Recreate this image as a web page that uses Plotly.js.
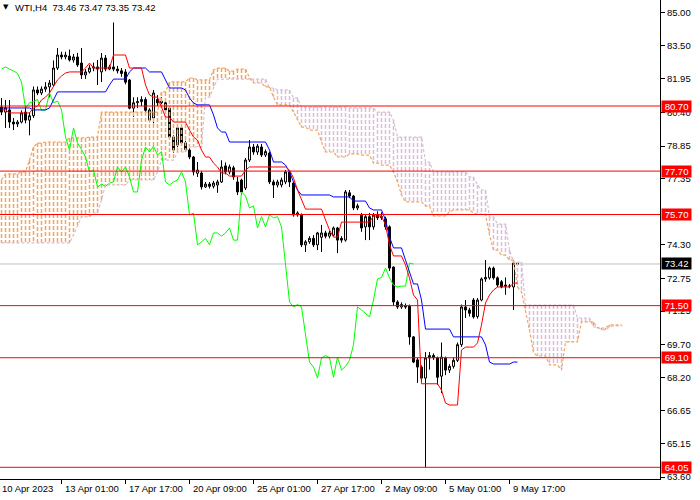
<!DOCTYPE html>
<html><head><meta charset="utf-8">
<script src="https://cdn.plot.ly/plotly-3.0.1.min.js"></script>
<style>html,body{margin:0;padding:0;background:#fff}#chart{width:700px;height:500px}</style>
</head><body><div id="chart"></div>
<script>
// ---- data ----
const openP = [80.65,80.42,80.52,79.96,79.87,79.96,80.42,80.05,80.25,81.44,81.30,81.48,81.58,81.67,82.45,83.05,82.96,83.00,82.82,82.96,
82.68,82.13,82.27,82.45,82.50,82.27,82.91,82.40,82.50,82.40,82.32,82.27,81.90,80.60,80.85,80.90,81.00,80.05,80.15,81.00,
80.85,80.85,80.60,79.27,78.90,79.69,79.00,78.67,78.35,77.60,77.61,76.97,77.10,77.00,77.06,77.20,77.94,77.66,77.85,77.20,
77.29,76.92,78.21,78.81,78.58,78.81,78.44,78.53,77.20,77.06,77.06,77.20,77.66,77.15,75.68,75.68,74.30,74.44,74.60,74.30,
74.65,74.85,74.70,74.75,75.08,74.60,74.52,76.70,76.55,76.00,75.70,75.13,75.60,75.13,75.68,75.55,75.50,75.13,73.28,71.67,
71.44,71.50,71.48,70.06,69.00,68.67,68.16,69.09,69.20,69.10,68.25,69.09,68.53,68.70,68.98,69.70,71.44,71.30,71.76,71.00,
71.76,72.73,72.78,73.23,72.78,72.60,72.45,72.40,72.36,73.46];
const highP = [81.07,80.98,80.98,80.15,80.05,80.50,80.70,80.40,81.60,81.60,81.60,81.80,81.90,82.80,83.37,83.20,83.20,83.30,83.10,83.15,
83.37,82.40,82.60,82.70,82.82,83.14,83.05,82.60,84.55,82.55,82.45,82.40,81.95,81.10,81.10,81.15,81.10,80.60,81.44,81.20,
81.10,81.00,80.65,79.35,79.80,79.85,79.10,78.75,78.40,78.12,77.70,77.20,77.20,77.25,77.30,78.20,78.10,78.00,77.95,77.43,
77.35,78.30,79.13,78.95,78.95,78.95,78.70,78.60,77.30,77.30,77.40,77.75,77.75,77.20,75.85,75.75,74.52,74.70,74.75,74.90,
75.22,74.95,74.95,75.15,75.13,74.70,76.83,76.83,76.60,76.20,75.77,75.68,75.77,75.77,75.85,75.80,75.60,75.20,73.30,71.75,
71.65,71.60,71.55,70.10,69.10,68.75,69.36,69.36,69.30,69.15,69.80,69.15,68.80,69.10,69.80,71.55,71.76,71.40,71.85,71.85,
72.80,73.60,73.30,73.30,72.85,72.68,72.80,72.50,73.50,73.47];
const lowP = [80.28,79.69,79.69,79.59,79.73,79.90,79.90,79.35,80.15,81.20,81.20,81.35,81.10,81.60,82.36,82.85,82.85,82.75,82.70,82.50,
81.95,81.95,82.20,82.30,81.67,81.80,82.30,82.35,82.30,82.20,82.05,81.70,80.55,80.20,80.60,80.70,80.35,79.95,79.90,80.70,
80.70,80.40,79.20,78.55,78.80,78.90,78.60,78.25,77.50,77.43,76.85,76.92,76.90,76.90,76.70,77.15,77.55,77.55,77.30,76.60,
76.60,76.83,78.12,78.45,78.45,78.35,78.35,77.10,76.46,76.95,76.95,77.10,76.97,75.60,75.60,74.20,73.97,74.35,74.20,74.06,
73.97,74.60,74.60,74.70,73.92,74.40,74.45,76.45,75.90,75.90,74.90,74.52,74.52,75.00,75.45,75.45,75.00,73.10,71.50,71.35,
71.35,71.35,69.70,68.85,67.94,68.00,64.05,68.55,69.00,67.85,67.47,68.30,68.40,68.60,68.90,69.60,70.93,71.00,70.90,70.90,
71.70,72.60,72.70,72.70,72.35,72.30,72.00,72.30,71.30,73.35];
const closeP = [80.42,80.62,79.96,79.87,79.96,80.38,80.05,80.25,81.44,81.30,81.48,81.58,81.76,82.45,83.05,82.96,83.05,82.82,82.96,82.59,
82.13,82.27,82.45,82.50,82.40,82.91,82.40,82.50,82.40,82.32,82.20,81.80,80.60,80.85,80.90,81.00,80.50,80.52,81.30,80.85,
80.93,80.52,79.27,78.67,79.69,79.00,78.70,78.35,77.66,77.75,76.97,77.10,77.00,77.15,77.20,77.89,77.66,77.89,77.43,76.74,
76.74,78.21,78.81,78.58,78.85,78.44,78.60,77.20,77.06,77.20,77.29,77.66,77.20,75.68,75.77,74.30,74.44,74.60,74.30,74.85,
74.85,74.70,74.85,75.08,74.52,74.52,76.74,76.55,76.00,76.10,75.08,75.60,75.13,75.68,75.55,75.60,75.13,73.23,71.67,71.44,
71.55,71.44,70.06,68.90,68.67,68.16,69.09,69.20,69.10,68.20,69.13,68.53,68.70,68.98,69.70,71.44,71.30,71.15,70.98,71.76,
72.73,72.80,73.23,72.78,72.45,72.36,72.40,72.40,73.46,73.42];
const tenkan = [80.52,80.52,80.38,80.38,80.38,80.38,80.38,80.38,80.61,80.70,80.98,81.11,81.30,81.62,81.90,82.08,82.22,82.27,82.27,82.27,
82.27,82.45,82.68,82.45,82.45,82.45,82.45,82.45,83.05,83.05,83.05,83.05,82.45,82.45,82.45,82.45,81.67,81.21,81.11,81.11,
80.65,80.19,80.19,79.96,79.96,79.96,79.96,79.59,79.27,79.13,78.67,78.35,78.35,78.07,77.89,77.61,77.61,77.47,77.47,77.47,
77.47,77.75,77.89,77.89,77.89,77.89,77.89,77.89,77.89,77.89,77.89,77.89,77.75,77.38,76.83,76.37,75.95,75.95,75.95,75.95,
75.95,75.45,74.99,74.66,74.66,75.35,75.35,75.35,75.35,75.35,75.35,75.35,75.35,75.63,75.63,75.63,75.22,74.30,73.79,73.79,
73.79,73.37,72.77,71.99,71.76,67.90,67.90,67.90,67.90,67.90,67.61,67.01,66.92,66.92,66.92,69.46,69.59,69.59,69.59,69.78,
70.61,71.62,71.99,72.22,72.36,72.36,72.36,72.36,72.54,72.54];
const kijun = [80.61,80.61,80.61,80.61,80.61,80.61,80.61,80.61,80.52,80.52,80.52,80.52,80.61,80.98,81.35,81.35,81.35,81.35,81.35,81.35,
81.35,81.35,81.35,81.35,81.35,81.35,81.35,81.67,81.94,81.94,81.94,81.94,82.27,82.45,82.45,82.45,82.45,82.27,82.27,82.27,
82.27,81.90,81.53,81.53,81.53,81.53,81.44,81.07,80.84,80.75,80.75,80.75,80.75,80.29,79.69,79.50,79.50,79.04,79.04,79.04,
79.04,79.04,79.04,79.04,79.04,79.04,79.04,78.67,78.12,78.12,78.12,77.98,77.66,77.20,76.83,76.60,76.60,76.60,76.60,76.60,
76.60,76.60,76.60,76.51,76.51,76.51,76.51,76.51,76.32,76.32,76.32,76.32,76.00,75.91,75.91,75.91,75.45,74.66,74.16,74.16,
74.16,73.60,73.05,72.50,72.50,71.76,70.42,70.42,70.42,70.42,70.42,70.42,70.42,70.06,70.06,70.06,70.06,70.06,70.06,70.06,
70.06,69.69,68.90,68.81,68.81,68.81,68.81,68.81,68.90,68.90];
const spanA = [77.29,77.57,77.57,77.57,77.57,77.66,77.66,78.21,78.81,78.99,78.99,79.04,79.04,79.04,79.04,79.04,79.04,79.23,79.23,79.23,
79.23,79.23,79.27,79.27,79.27,80.42,80.42,80.42,80.42,80.42,80.42,80.42,80.42,80.42,80.42,80.42,80.42,80.42,80.42,80.42,
81.35,81.35,81.81,81.81,81.81,81.81,81.81,81.99,81.99,81.90,81.90,81.90,81.90,82.36,82.45,82.45,82.45,82.31,82.31,82.40,
82.40,82.40,81.99,81.76,81.76,81.76,81.58,81.58,81.11,80.75,80.75,80.75,80.75,80.42,80.05,79.73,79.73,79.59,79.59,79.59,
79.04,78.58,78.58,78.58,78.35,78.35,78.35,78.49,78.49,78.49,78.44,78.44,78.44,78.07,78.07,77.98,77.98,77.98,77.66,77.20,
76.60,76.28,76.28,76.28,76.28,76.28,76.09,76.09,75.63,75.63,75.63,75.63,75.82,75.91,75.91,75.91,75.91,75.91,75.77,75.72,
75.72,75.72,74.76,74.06,74.06,73.83,73.83,73.60,73.60,72.36,72.13,71.30,70.38,69.32,69.18,69.18,69.18,68.77,68.77,68.77,
68.53,69.83,69.83,69.83,69.83,70.75,70.75,70.75,70.75,70.47,70.47,70.47,70.61,70.61,70.61,70.61];
const spanB = [74.39,74.39,74.39,74.39,74.39,74.39,74.39,74.39,74.39,74.39,74.39,74.39,74.39,74.39,74.39,74.39,74.39,74.39,74.76,75.22,
75.59,75.59,75.59,75.77,75.77,76.37,77.06,77.06,77.06,77.06,77.06,77.06,77.29,77.29,77.29,77.29,77.29,77.29,77.29,77.66,
78.21,78.21,78.21,78.21,78.58,78.58,78.58,78.81,78.81,78.81,78.81,81.11,81.11,81.53,81.94,81.94,81.94,81.94,81.94,81.94,
81.94,81.94,81.94,81.94,81.94,81.94,81.94,81.53,81.53,81.44,81.44,81.44,81.44,81.07,81.07,80.65,80.65,80.65,80.65,80.65,
80.65,80.65,80.65,80.65,80.65,80.65,80.65,80.61,80.61,80.61,80.61,80.61,80.61,80.61,80.42,80.42,80.42,80.42,80.05,79.27,
79.27,79.27,79.27,79.27,79.27,79.27,78.12,78.12,77.66,77.66,77.66,77.66,77.66,77.66,77.66,77.66,77.66,77.43,77.43,77.06,
76.83,76.83,75.59,75.59,75.26,75.26,75.26,74.06,73.51,73.51,73.51,71.53,71.53,71.53,71.53,71.53,71.53,71.53,71.53,71.53,
71.53,71.53,71.53,71.53,70.93,70.93,70.93,70.93,70.52,70.52,70.38,70.38,70.52,70.57,70.57,70.57];
const chikouShift = 26;
const levels = [80.70, 77.70, 75.70, 71.50, 69.10, 64.05];
const bidPrice = 73.42;
const yTicks = [85.00, 83.50, 81.95, 80.40, 78.85, 77.35, 74.30, 72.75, 71.25, 69.70, 68.20, 66.65, 65.15, 63.60];
const timeTickIdx = [-1, 15, 31, 47, 63, 79, 95, 111, 127];
const timeTickText = ['10 Apr 2023', '13 Apr 01:00', '17 Apr 17:00', '20 Apr 09:00', '25 Apr 01:00', '27 Apr 17:00', '2 May 09:00', '5 May 01:00', '9 May 17:00'];
const titleText = 'WTI,H4  73.46 73.47 73.35 73.42';

// ---- build traces ----
const FONT = 'Liberation Sans, Arial, sans-serif';
const XMIN = -0.375, XMAX = 164.625;
const idx = closeP.map((_, i) => i);
const cloudIdx = spanA.map((_, i) => i);

const orangeX = [], orangeY = [], thistleX = [], thistleY = [];
spanA.forEach((a, i) => {
  const b = spanB[i];
  const hi = Math.max(a, b), lo = Math.min(a, b);
  if (a >= b) { orangeX.push(i, i, null); orangeY.push(hi, lo, null); }
  else { thistleX.push(i, i, null); thistleY.push(hi, lo, null); }
});

const chX = [], chY = [];
for (let i = chikouShift; i < closeP.length; i++) { chX.push(i - chikouShift); chY.push(closeP[i]); }

const traces = [
  {type:'candlestick', x: idx, open: openP, high: highP, low: lowP, close: closeP,
   increasing:{line:{color:'#000000', width:1}, fillcolor:'#ffffff'},
   decreasing:{line:{color:'#000000', width:1}, fillcolor:'#000000'},
   whiskerwidth:0, hoverinfo:'skip', showlegend:false},
  {type:'scatter', mode:'lines', x: orangeX, y: orangeY, line:{color:'#F4A460', width:1.5, dash:'4px,2px'}, hoverinfo:'skip', showlegend:false},
  {type:'scatter', mode:'lines', x: thistleX, y: thistleY, line:{color:'#D8BFD8', width:1.5, dash:'4px,2px'}, hoverinfo:'skip', showlegend:false},
  {type:'scatter', mode:'lines', x: cloudIdx, y: spanB, line:{color:'#D8BFD8', width:1.2, dash:'3px,2px'}, hoverinfo:'skip', showlegend:false},
  {type:'scatter', mode:'lines', x: cloudIdx, y: spanA, line:{color:'#F4A460', width:1.2, dash:'3px,2px'}, hoverinfo:'skip', showlegend:false},
  {type:'scatter', mode:'lines', x: chX, y: chY, line:{color:'#00FF00', width:1}, hoverinfo:'skip', showlegend:false},
  {type:'scatter', mode:'lines', x: idx, y: kijun, line:{color:'#0000FF', width:1}, hoverinfo:'skip', showlegend:false},
  {type:'scatter', mode:'lines', x: idx, y: tenkan, line:{color:'#FF0000', width:1}, hoverinfo:'skip', showlegend:false}
];

const shapes = [
  {type:'line', xref:'paper', x0:0, x1:1, yref:'y', y0:bidPrice, y1:bidPrice, line:{color:'#C0C0C0', width:1}, layer:'below'}
].concat(levels.map(v => ({type:'line', xref:'paper', x0:0, x1:1, yref:'y', y0:v, y1:v, line:{color:'#FF0000', width:1}})));

const annotations = [];
levels.forEach(v => annotations.push({xref:'paper', x:1, xanchor:'left', xshift:1, yref:'y', y:v, yanchor:'middle',
  text:' ' + v.toFixed(2) + ' ', showarrow:false, bgcolor:'#FF0000', borderpad:0,
  font:{family:FONT, size:9.5, color:'#ffffff'}}));
annotations.push({xref:'paper', x:1, xanchor:'left', xshift:1, yref:'y', y:bidPrice, yanchor:'middle',
  text:' ' + bidPrice.toFixed(2) + ' ', showarrow:false, bgcolor:'#000000', borderpad:0,
  font:{family:FONT, size:9.5, color:'#ffffff'}});
timeTickIdx.forEach((t, k) => annotations.push({xref:'x', x: Math.max(t, XMIN), xanchor:'left', xshift: t < XMIN ? 0 : 1,
  yref:'paper', y:0, yanchor:'top', yshift:-2, text: timeTickText[k], showarrow:false,
  font:{family:FONT, size:9.5, color:'#000000'}}));
annotations.push({xref:'paper', x:0, xanchor:'left', xshift:1, yref:'paper', y:1, yanchor:'top', yshift:-1,
  text:'▼', showarrow:false, font:{family:'DejaVu Sans', size:7, color:'#000000'}});
annotations.push({xref:'paper', x:0, xanchor:'left', xshift:13, yref:'paper', y:1, yanchor:'top', yshift:0,
  text: titleText.replace(/ /g, '&nbsp;'), showarrow:false, font:{family:FONT, size:9.5, color:'#000000'}});

const layout = {
  width:700, height:500,
  margin:{l:0, r:40, t:0, b:21, pad:0},
  paper_bgcolor:'#ffffff', plot_bgcolor:'#ffffff',
  showlegend:false, hovermode:false,
  xaxis:{range:[XMIN, XMAX], rangeslider:{visible:false}, showgrid:false, zeroline:false,
    showline:true, linecolor:'#000000', linewidth:1, ticks:'outside', ticklen:4, tickcolor:'#000000', tickwidth:1,
    tickvals: timeTickIdx, showticklabels:false, fixedrange:true},
  yaxis:{side:'right', range:[63.511, 85.585], showgrid:false, zeroline:false,
    showline:true, linecolor:'#000000', linewidth:1, ticks:'outside', ticklen:4, tickcolor:'#000000', tickwidth:1,
    tickvals: yTicks, ticktext: yTicks.map(v => v.toFixed(2)),
    tickfont:{family:FONT, size:9.5, color:'#000000'}, fixedrange:true},
  shapes: shapes,
  annotations: annotations
};

Plotly.newPlot('chart', traces, layout, {displayModeBar:false, staticPlot:true});
</script>
</body></html>
